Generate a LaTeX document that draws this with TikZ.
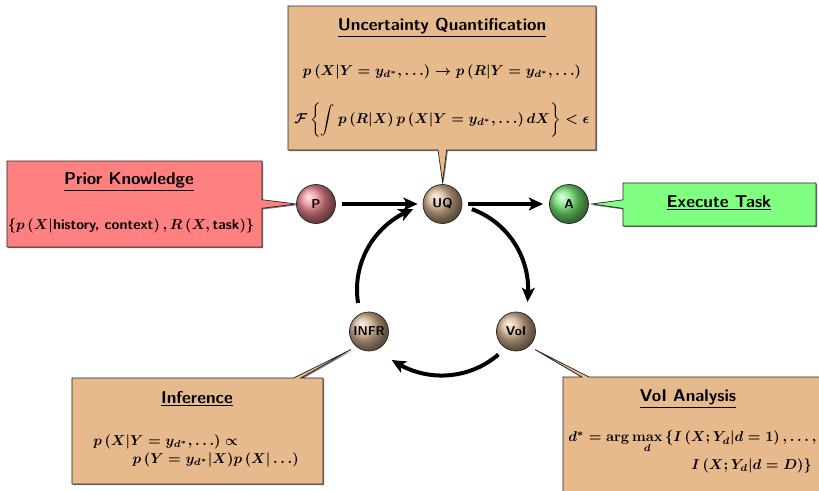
\documentclass[tikz,border=0pt]{standalone}
\usepackage{amsmath}
\usetikzlibrary{shapes.callouts,shadows,arrows.meta,calc,bending}
\definecolor{tanfill}{RGB}{230,186,140}
\definecolor{redfill}{RGB}{255,128,128}
\definecolor{greenfill}{RGB}{128,255,128}
\definecolor{pcol}{RGB}{232,130,140}
\definecolor{uqcol}{RGB}{212,178,144}
\definecolor{acol}{RGB}{115,228,115}
\tikzset{
  ball/.style={circle, shading=ball, draw=black!85, line width=0.5pt, minimum size=27.3pt, inner sep=0pt, font=\small\sffamily\bfseries},
  callbox/.style={rectangle callout, draw=black!85, line width=0.5pt, inner sep=0pt, callout pointer width=6pt,
     drop shadow={shadow xshift=0.8pt, shadow yshift=-0.8pt, fill=black, opacity=0.55}},
  titletext/.style={font=\large\sffamily\bfseries, inner sep=0pt},
  mathtext/.style={font=\boldmath, inner sep=0pt},
  flow/.style={line width=2.8pt, -{Stealth[length=10pt, width=9pt, inset=2.5pt, bend]}},
}
\begin{document}
\begin{tikzpicture}[x=0.7pt, y=-0.7pt]
\useasboundingbox (0,0) rectangle (819,490);
\clip (0,0) rectangle (819,490);

% balls
\node[ball, ball color=pcol] (P) at (316,204) {P};
\node[ball, ball color=uqcol] (UQ) at (442.5,204) {UQ};
\node[ball, ball color=acol] (A) at (569,204) {A};
\node[ball, ball color=uqcol] (INFR) at (369,331.5) {INFR};
\node[ball, ball color=uqcol] (VoI) at (516,331.5) {VoI};

% pointer tips
\coordinate (uqtip) at ($(UQ.north)+(0,-2)$);
\coordinate (ptip) at (P.west);
\coordinate (atip) at ($(A.east)+(3,0)$);
\coordinate (itip) at ($(INFR)+(-18,18)$);
\coordinate (vtip) at ($(VoI)+(19,18)$);

% callouts
\node[callbox, fill=tanfill, minimum width=215.6pt, minimum height=100.8pt, callout absolute pointer={(uqtip)}] (uqbox) at (442,78) {};
\node[callbox, fill=redfill, minimum width=178.5pt, minimum height=60.2pt, callout absolute pointer={(ptip)}] (pbox) at (134.5,204) {};
\node[callbox, fill=greenfill, minimum width=135.1pt, minimum height=30.1pt, callout absolute pointer={(atip)}] (abox) at (719.5,204.5) {};
\node[callbox, fill=tanfill, minimum width=175.7pt, minimum height=74.2pt, callout pointer width=5pt, callout absolute pointer={(itip)}] (ibox) at (197.5,431) {};
\node[callbox, fill=tanfill, minimum width=184.1pt, minimum height=83.3pt, callout pointer width=5pt, callout absolute pointer={(vtip)}] (vbox) at (694.5,436.5) {};

% texts
\node[titletext] (uqtitle) at (442,28) {\underline{Uncertainty Quantification}};
\node[mathtext] (uqm1) at (442,72) {$p\left(X|Y=y_{d^*},\ldots\right)\rightarrow p\left(R|Y=y_{d^*},\ldots\right)$};
\node[mathtext] (uqm2) at (442,120) {$\displaystyle\mathcal{F}\left\{\int p\left(R|X\right)p\left(X|Y=y_{d^*},\ldots\right)dX\right\}<\epsilon$};

\node[titletext] (ptitle) at (129,182) {\underline{Prior Knowledge}};
\node[mathtext] (pm) at (131,226) {$\left\{p\left(X|\text{\sffamily\bfseries history, context}\right),R\left(X,\text{\sffamily\bfseries task}\right)\right\}$};

\node[titletext] (atitle) at (719,203) {\underline{Execute Task}};

\node[titletext] (ititle) at (197,399) {\underline{Inference}};
\node[mathtext, anchor=west] (im1) at (93,442) {$p\left(X|Y=y_{d^*},\ldots\right)\propto$};
\node[mathtext, anchor=east] (im2) at (299,460) {$p\,(Y=y_{d^*}|X)p\,(X|\ldots)$};

\node[titletext] (vtitle) at (688,399) {\underline{VoI Analysis}};
\node[mathtext, anchor=west] (vm1) at (568,442) {$d^*=\arg\max\limits_d\left\{I\left(X;Y_d|d=1\right),\ldots,\right.$};
\node[mathtext, anchor=east] (vm2) at (812,466) {$\left.I\left(X;Y_d|d=D\right)\right\}$};

% flows
\draw[flow, shorten <=4.2pt, shorten >=3.5pt] (P) -- (UQ);
\draw[flow, shorten <=4.2pt, shorten >=4.2pt] (UQ) -- (A);
\coordinate (C) at (442.6,289.6);
\coordinate (s1) at ($(C)+(-70:85.6)$);
\coordinate (s2) at ($(C)+(49.3:85.6)$);
\coordinate (s3) at ($(C)+(171:85.6)$);
\draw[flow] (s1) arc[start angle=-70, end angle=8.3, radius=85.6];
\draw[flow] (s2) arc[start angle=49.3, end angle=125, radius=87];
\draw[flow] (s3) arc[start angle=171, end angle=250, radius=85.6];
\end{tikzpicture}
\end{document}
